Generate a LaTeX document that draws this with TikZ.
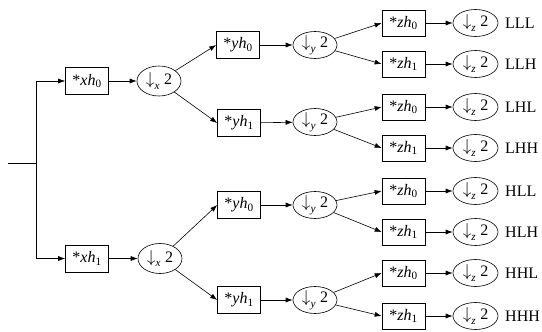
\documentclass[tikz,border=0pt]{standalone}
\usepackage{fontspec}
\setmainfont{Liberation Serif}
\usetikzlibrary{arrows.meta,shapes.geometric}
\tikzset{
  filt/.style={draw,line width=0.6pt,minimum width=43pt,minimum height=27pt,inner sep=0pt},
  down/.style={draw,ellipse,line width=0.6pt,minimum width=44pt,minimum height=27pt,inner sep=0pt},
  lab/.style={anchor=west,inner sep=0pt},
  conn/.style={line width=0.6pt,-{Latex[length=7pt,width=5pt]}},
  wire/.style={line width=0.6pt}
}
\newcommand{\fb}[2]{*\textit{#1h}\textsubscript{#2}}
\newcommand{\ds}[1]{{\fontsize{19}{20}\selectfont$\downarrow$}\raisebox{-2pt}{\textsubscript{\textit{#1}}} 2}
\begin{document}
\begin{tikzpicture}[x=1pt,y=-1pt,font=\fontsize{16}{18}\selectfont]
\useasboundingbox (0,0) rectangle (542,332);
% input
\coordinate (in) at (8,163);
\coordinate (j) at (36,163);
\coordinate (jt) at (36,81);
\coordinate (jb) at (36,258.5);
% level x
\node[filt] (bx0) at (87,81) {\fb{x}{0}};
\node[down,minimum height=30pt] (dx0) at (159,81) {\ds{x}};
\node[filt] (bx1) at (87,258.5) {\fb{x}{1}};
\node[down,minimum height=30pt] (dx1) at (160,258.5) {\ds{x}};
% level y
\node[filt] (by00) at (238,45) {\fb{y}{0}};
\node[down] (dy00) at (315,45) {\ds{y}};
\node[filt] (by01) at (239,123) {\fb{y}{1}};
\node[down] (dy01) at (315,122) {\ds{y}};
\node[filt] (by10) at (239,205) {\fb{y}{0}};
\node[down] (dy10) at (315,205) {\ds{y}};
\node[filt] (by11) at (239,300) {\fb{y}{1}};
\node[down] (dy11) at (315,300) {\ds{y}};
% level z
\foreach \i/\yy/\h/\t in {1/23/0/LLL,2/64/1/LLH,3/107/0/LHL,4/148/1/LHH,5/191/0/HLL,6/232/1/HLH,7/273/0/HHL,8/316/1/HHH}{
  \node[filt,minimum height=26pt] (bz\i) at (403.5,\yy) {\fb{z}{\h}};
  \node[down,minimum width=45pt] (dz\i) at (475.5,\yy) {\ds{z}};
  \node[lab] (l\i) at (505,\yy) {\t};
  \draw[conn] (bz\i) -- (dz\i);
}
% connectors
\draw[wire] (in) -- (j);
\draw[wire] (jt) -- (jb);
\draw[conn] (jt) -- (bx0);
\draw[conn] (jb) -- (bx1);
\draw[conn] (bx0) -- (dx0);
\draw[conn] (bx1) -- (dx1);
\draw[conn] (dx0) -- (by00.west);
\draw[conn] (dx0) -- (by01.west);
\draw[conn] (dx1) -- (by10.west);
\draw[conn] (dx1) -- (by11.west);
\draw[conn] (by00) -- (dy00);
\draw[conn] (by01) -- (dy01);
\draw[conn] (by10) -- (dy10);
\draw[conn] (by11) -- (dy11);
\draw[conn] (dy00) -- (bz1.west);
\draw[conn] (dy00) -- (bz2.west);
\draw[conn] (dy01) -- (bz3.west);
\draw[conn] (dy01) -- (bz4.west);
\draw[conn] (dy10) -- (bz5.west);
\draw[conn] (dy10) -- (bz6.west);
\draw[conn] (dy11) -- (bz7.west);
\draw[conn] (dy11) -- (bz8.west);
\end{tikzpicture}
\end{document}
